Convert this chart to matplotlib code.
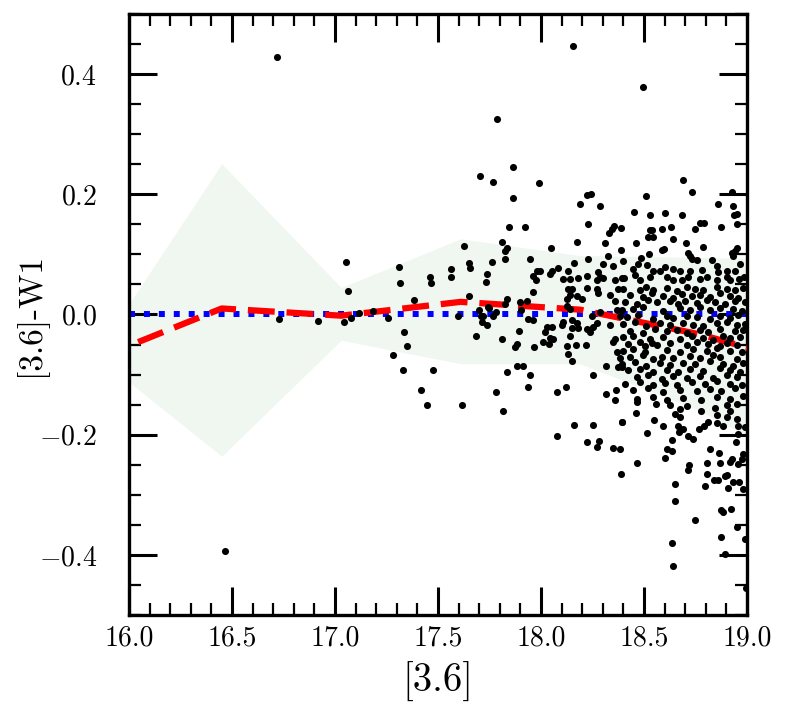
import matplotlib
matplotlib.use("Agg")
import matplotlib.pyplot as plt
from matplotlib.ticker import MultipleLocator

plt.rcParams['font.family'] = 'serif'
plt.rcParams['font.serif'] = ['cmr10']
plt.rcParams['mathtext.fontset'] = 'cm'
plt.rcParams['axes.formatter.use_mathtext'] = True

# ---- binned statistics (bin centres, median, scatter band) ----
bin_x = [15.87, 16.45, 17.03, 17.61, 18.19, 18.77, 19.35]
bin_med = [-0.070, 0.010, -0.002, 0.021, 0.008, -0.033, -0.088]
band_hi = [-0.050, 0.251, 0.045, 0.126, 0.098, 0.095, 0.090]
band_lo = [-0.077, -0.236, -0.043, -0.082, -0.082, -0.160, -0.266]

# ---- individual sources: [3.6] and [3.6]-W1 ----
# isolated outliers
out_x = [16.718, 16.467, 18.157, 18.497, 17.785, 17.704, 17.769, 17.866]
out_y = [0.428, -0.394, 0.447, 0.378, 0.325, 0.230, 0.221, 0.245]

# brighter sources, x < 17.8
brt_x = [17.053, 17.062, 17.309, 17.316, 17.461, 17.466, 17.383, 16.728, 16.919, 17.045,
         17.076, 17.117, 17.186, 17.257, 17.283, 17.335, 17.351, 17.328, 17.477, 17.416,
         17.447, 17.628, 17.760, 17.650, 17.655, 17.563, 17.565, 17.738, 17.734, 17.650,
         17.744, 17.617, 17.782, 17.699, 17.707, 17.720, 17.712, 17.736, 17.749, 17.769,
         17.780, 17.683, 17.599]
brt_y = [0.088, 0.039, 0.079, 0.052, 0.062, 0.052, 0.024, -0.008, -0.011, -0.012,
         -0.006, 0.003, 0.005, -0.006, -0.068, -0.029, -0.052, -0.093, -0.093, -0.125,
         -0.151, 0.114, 0.087, 0.086, 0.078, 0.076, 0.062, 0.068, 0.054, 0.030,
         0.012, -0.150, -0.129, 0.007, -0.002, -0.002, -0.013, -0.017, 0.011, -0.002,
         0.004, -0.036, -0.003]

# upper scatter, 17.8 < x < 18.4
upa_x = [17.992, 17.863, 18.222, 18.244, 18.189, 18.286, 18.227, 17.843, 17.924, 18.354,
         18.343, 18.330, 18.390, 17.809, 17.833, 17.825, 17.827, 18.047, 18.173, 18.311,
         18.387, 18.327, 17.947, 18.228, 18.400, 18.162, 18.303, 18.351, 18.083, 17.979,
         17.995, 18.052, 18.044, 17.960, 17.976, 18.133, 18.108, 18.141, 18.181, 18.222,
         18.278, 18.286, 18.270, 18.303, 18.359, 18.392]
upa_y = [0.219, 0.194, 0.199, 0.201, 0.183, 0.181, 0.150, 0.145, 0.146, 0.148,
         0.143, 0.135, 0.144, 0.121, 0.111, 0.106, 0.093, 0.110, 0.120, 0.119,
         0.108, 0.097, 0.092, 0.093, 0.089, 0.085, 0.084, 0.080, 0.077, 0.073,
         0.073, 0.073, 0.068, 0.064, 0.058, 0.072, 0.059, 0.059, 0.060, 0.064,
         0.070, 0.062, 0.057, 0.061, 0.057, 0.061]

# upper scatter, x > 18.4
upb_x = [18.688, 18.508, 18.734, 18.925, 18.861, 18.934, 18.451, 18.531, 18.602, 18.684,
         18.950, 18.937, 18.529, 18.540, 18.586, 18.630, 18.772, 18.791, 18.748, 18.872,
         18.950, 18.519, 18.545, 18.639, 18.460, 18.704, 18.786, 18.586, 18.597, 18.526,
         18.715, 18.723, 18.732, 18.756, 18.925, 18.942, 18.933, 18.953, 18.485, 18.473,
         18.513, 18.448, 18.545, 18.578, 18.602, 18.642, 18.675, 18.723, 18.780, 18.829,
         18.853, 18.861, 18.902, 18.942, 18.966, 18.403, 18.456, 18.481, 18.529, 18.610,
         18.642, 18.683, 18.715, 18.772, 18.804, 18.853, 18.902, 18.918, 18.959, 18.983]
upb_y = [0.223, 0.197, 0.204, 0.204, 0.184, 0.181, 0.170, 0.165, 0.169, 0.166,
         0.168, 0.165, 0.140, 0.140, 0.142, 0.146, 0.153, 0.153, 0.142, 0.146,
         0.150, 0.129, 0.129, 0.126, 0.119, 0.119, 0.112, 0.108, 0.109, 0.101,
         0.102, 0.097, 0.093, 0.090, 0.102, 0.106, 0.098, 0.111, 0.094, 0.084,
         0.082, 0.076, 0.073, 0.073, 0.079, 0.075, 0.072, 0.073, 0.074, 0.090,
         0.080, 0.070, 0.073, 0.073, 0.084, 0.061, 0.065, 0.057, 0.062, 0.062,
         0.057, 0.057, 0.062, 0.059, 0.062, 0.057, 0.062, 0.057, 0.059, 0.062]

# core, 17.8 < x < 18.4
cra_x = [17.833, 17.825, 17.963, 17.934, 17.898, 17.901, 18.133, 18.149, 18.222, 18.270,
         18.278, 18.375, 18.335, 18.359, 18.367, 18.392, 18.383, 18.125, 18.141, 18.173,
         18.197, 18.125, 18.141, 18.286, 18.246, 17.939, 17.963, 18.028, 18.052, 18.019,
         18.044, 18.060, 18.100, 18.108, 18.149, 18.149, 18.141, 18.176, 18.181, 18.222,
         18.254, 18.270, 18.238, 18.335, 18.359, 18.351, 17.893, 17.809, 17.882, 17.874,
         17.966, 18.008, 18.040, 18.125, 18.170, 18.218, 18.133, 18.152, 18.367, 18.383,
         18.375, 18.392, 18.316, 18.254, 17.885, 17.911, 17.947, 17.833, 17.939, 18.079,
         18.120, 18.316, 18.364, 18.359]
cra_y = [0.026, 0.018, 0.037, 0.023, 0.021, 0.008, 0.043, 0.043, 0.044, 0.043,
         0.036, 0.043, 0.032, 0.023, 0.007, 0.008, -0.002, 0.026, 0.032, 0.031,
         0.026, 0.014, 0.009, 0.004, -0.002, -0.007, -0.010, -0.021, -0.021, -0.029,
         -0.039, -0.040, -0.017, -0.012, -0.010, -0.023, -0.035, -0.015, -0.023, -0.024,
         -0.021, -0.015, -0.029, -0.017, -0.040, -0.046, -0.027, -0.040, -0.049, -0.054,
         -0.054, -0.046, -0.049, -0.052, -0.050, -0.050, -0.065, -0.078, -0.063, -0.073,
         -0.088, -0.088, -0.085, -0.100, -0.085, -0.086, -0.101, -0.096, -0.121, -0.129,
         -0.120, -0.132, -0.125, -0.143]

# core, x > 18.4
crb_x = [18.399, 18.480, 18.512, 18.545, 18.610, 18.658, 18.707, 18.747, 18.787, 18.852, 18.901, 18.941, 18.982,
         18.432, 18.496, 18.537, 18.593, 18.642, 18.682, 18.731, 18.771, 18.820, 18.868, 18.917, 18.957,
         18.407, 18.464, 18.521, 18.561, 18.626, 18.666, 18.698, 18.755, 18.804, 18.844, 18.893, 18.941, 18.990,
         18.448, 18.496, 18.593, 18.674, 18.723, 18.771, 18.820, 18.868, 18.933, 18.974,
         18.415, 18.472, 18.545, 18.610, 18.642, 18.707, 18.755, 18.820, 18.868, 18.917, 18.957,
         18.399, 18.456, 18.512, 18.577, 18.626, 18.690, 18.739, 18.787, 18.852, 18.901, 18.949, 18.990,
         18.432, 18.496, 18.553, 18.610, 18.658, 18.707, 18.771, 18.812, 18.868, 18.941, 18.982,
         18.399, 18.448, 18.529, 18.593, 18.674, 18.731, 18.787, 18.836, 18.885, 18.917, 18.965,
         18.423, 18.480, 18.504, 18.537, 18.561, 18.626, 18.707, 18.755, 18.812, 18.868, 18.901, 18.949,
         18.399, 18.448, 18.504, 18.610, 18.674, 18.739, 18.804, 18.852, 18.917, 18.974,
         18.432, 18.496, 18.545, 18.585, 18.642, 18.723, 18.771, 18.836, 18.868, 18.949,
         18.391, 18.456, 18.512, 18.577, 18.626, 18.690, 18.747, 18.820, 18.885, 18.933, 18.982,
         18.423, 18.480, 18.545, 18.610, 18.666, 18.723, 18.787, 18.868, 18.917, 18.965,
         18.464, 18.521, 18.585, 18.642, 18.707, 18.771, 18.836, 18.901, 18.949,
         18.407, 18.480, 18.545, 18.601, 18.658, 18.731, 18.796, 18.852, 18.917, 18.974,
         18.448, 18.521, 18.593, 18.674, 18.755, 18.820, 18.876, 18.941,
         18.464, 18.545, 18.610, 18.690, 18.779, 18.852, 18.917, 18.982]
crb_y = [0.043, 0.040, 0.046, 0.041, 0.044, 0.039, 0.045, 0.042, 0.040, 0.046, 0.043, 0.041, 0.044,
         0.032, 0.029, 0.035, 0.031, 0.028, 0.034, 0.030, 0.033, 0.029, 0.035, 0.031, 0.028,
         0.021, 0.018, 0.024, 0.020, 0.023, 0.017, 0.022, 0.019, 0.024, 0.021, 0.018, 0.023, 0.020,
         0.009, 0.012, 0.006, 0.010, 0.008, 0.013, 0.007, 0.011, 0.009, 0.005,
         -0.004, -0.001, -0.007, -0.003, -0.006, -0.002, -0.005, -0.008, -0.003, -0.006, -0.001,
         -0.016, -0.013, -0.019, -0.015, -0.018, -0.014, -0.017, -0.020, -0.015, -0.012, -0.018, -0.016,
         -0.027, -0.030, -0.024, -0.028, -0.025, -0.031, -0.026, -0.029, -0.024, -0.028, -0.026,
         -0.038, -0.035, -0.041, -0.037, -0.040, -0.036, -0.039, -0.042, -0.036, -0.039, -0.037,
         -0.049, -0.046, -0.052, -0.048, -0.051, -0.047, -0.050, -0.045, -0.049, -0.052, -0.047, -0.050,
         -0.060, -0.057, -0.063, -0.059, -0.062, -0.058, -0.061, -0.056, -0.060, -0.063,
         -0.071, -0.068, -0.074, -0.070, -0.073, -0.069, -0.072, -0.067, -0.071, -0.074,
         -0.082, -0.079, -0.085, -0.081, -0.084, -0.080, -0.083, -0.078, -0.082, -0.085, -0.080,
         -0.093, -0.090, -0.096, -0.092, -0.095, -0.091, -0.094, -0.089, -0.093, -0.096,
         -0.104, -0.101, -0.107, -0.103, -0.106, -0.102, -0.105, -0.100, -0.104,
         -0.115, -0.112, -0.118, -0.114, -0.117, -0.113, -0.116, -0.111, -0.115, -0.118,
         -0.126, -0.123, -0.129, -0.125, -0.128, -0.124, -0.127, -0.122,
         -0.140, -0.137, -0.143, -0.139, -0.142, -0.138, -0.141, -0.136]

# lower tail
low_x = [17.817, 18.160, 18.254, 18.395, 18.079, 18.225, 18.283, 18.273, 18.348, 18.383,
         18.387, 18.464, 18.558, 18.626, 18.674, 18.711, 18.779, 18.844, 18.901, 18.949,
         18.459, 18.391, 18.548, 18.650, 18.674, 18.593, 18.666, 18.690, 18.671, 18.516,
         18.766, 18.791, 18.812, 18.852, 18.885, 18.901, 18.852, 18.917, 18.949, 18.957,
         18.715, 18.739, 18.634, 18.610, 18.634, 18.601, 18.467, 18.820, 18.865, 18.946,
         18.982, 18.720, 18.715, 18.807, 18.868, 18.917, 18.925, 18.957, 18.978, 18.804,
         18.839, 18.860, 18.893, 18.901, 18.796, 18.909, 18.933, 18.962, 18.650, 18.650,
         18.747, 18.876, 18.885, 18.920, 18.953, 18.876, 18.634, 18.639, 18.893, 18.990,
         18.982, 18.990, 18.957, 18.995]
low_y = [-0.161, -0.184, -0.184, -0.179, -0.203, -0.212, -0.211, -0.221, -0.222, -0.224,
         -0.265, -0.146, -0.149, -0.151, -0.157, -0.153, -0.161, -0.155, -0.151, -0.149,
         -0.164, -0.179, -0.176, -0.166, -0.170, -0.186, -0.185, -0.190, -0.195, -0.197,
         -0.190, -0.186, -0.179, -0.181, -0.185, -0.171, -0.168, -0.160, -0.174, -0.185,
         -0.203, -0.207, -0.209, -0.224, -0.227, -0.239, -0.247, -0.224, -0.231, -0.212,
         -0.232, -0.251, -0.258, -0.247, -0.247, -0.245, -0.240, -0.249, -0.240, -0.266,
         -0.276, -0.276, -0.268, -0.267, -0.285, -0.288, -0.279, -0.278, -0.282, -0.310,
         -0.342, -0.326, -0.329, -0.323, -0.353, -0.371, -0.380, -0.419, -0.398, -0.373,
         -0.290, -0.187, -0.199, -0.455]

src_x = out_x + brt_x + upa_x + upb_x + cra_x + crb_x + low_x
src_y = out_y + brt_y + upa_y + upb_y + cra_y + crb_y + low_y

x_ticks = [16.0, 16.5, 17.0, 17.5, 18.0, 18.5, 19.0]
y_ticks = [-0.4, -0.2, 0.0, 0.2, 0.4]

fig = plt.figure(figsize=(7.88, 7.09), dpi=100)
ax = fig.add_axes([0.1637, 0.1326, 0.7843, 0.8477])

ax.fill_between(bin_x, band_lo, band_hi, color='g', alpha=0.06, lw=0, zorder=1)
ax.axhline(0.0, color='b', ls=(0, (1, 1.5)), lw=4.3, zorder=2)
ax.plot(bin_x, bin_med, color='r', ls=(0, (4.3, 1.9)), lw=4.5, zorder=3)
ax.scatter(src_x, src_y, s=26, c='k', lw=0, zorder=4)

ax.set_xlim(16.0, 19.0)
ax.set_ylim(-0.5, 0.5)
ax.set_xticks(x_ticks)
ax.set_xticklabels([f"{v:.1f}" for v in x_ticks])
ax.set_yticks(y_ticks)
ax.xaxis.set_minor_locator(MultipleLocator(0.1))
ax.yaxis.set_minor_locator(MultipleLocator(0.05))

ax.tick_params(which='both', direction='in', top=True, right=True, labelsize=20)
ax.tick_params(which='major', length=20, width=2.2)
ax.tick_params(which='minor', length=8.5, width=1.6)
ax.tick_params(axis='x', pad=7)
ax.tick_params(axis='y', pad=23)
for s in ax.spines.values():
    s.set_linewidth(2.4)

ax.set_xlabel("[3.6]", fontsize=28, labelpad=8)
ax.set_ylabel("[3.6]-W1", fontsize=24, labelpad=-6)

fig.savefig("out.png", dpi=100)
